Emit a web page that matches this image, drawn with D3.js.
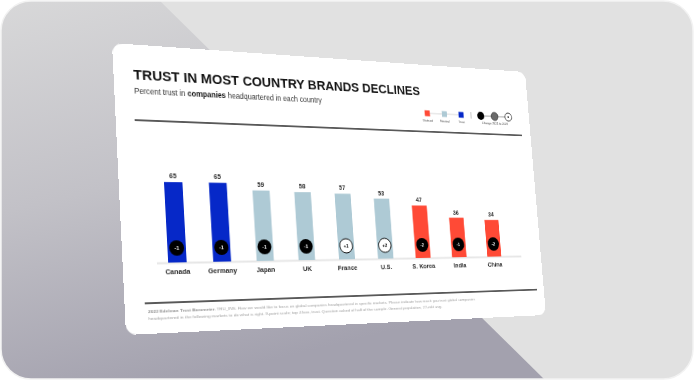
<!DOCTYPE html>
<html><head><meta charset="utf-8">
<script src="https://cdn.jsdelivr.net/npm/d3@7"></script>
<style>
html,body{margin:0;padding:0;background:#fff;width:694px;height:380px;overflow:hidden;}
#bg{position:absolute;left:0;top:0;}
#card{position:absolute;left:0;top:0;transform-origin:0 0;width:520px;height:300px;}
text{font-family:"Liberation Sans",Arial,Helvetica,sans-serif;}
</style></head><body>
<svg id="bg" width="694" height="380"></svg>
<div id="card"></div>
<script>
// ---- data ----
const countries = ["Canada","Germany","Japan","UK","France","U.S.","S. Korea","India","China"];
const trustValues = [65,65,59,58,57,53,47,36,34];
const changeValues = [-1,-1,-1,-1,1,2,-2,-1,-2];
const trustLevels = ["trust","trust","neutral","neutral","neutral","neutral","distrust","distrust","distrust"];
const legendKeys = ["distrust","neutral","trust"];
const legendLabels = ["Distrust","Neutral","Trust"];
const changeLegendLabel = "Change 2021 to 2022";
const titleText = "TRUST IN MOST COUNTRY BRANDS DECLINES";
const subtitleParts = ["Percent trust in ","companies"," headquartered in each country"];
const footnoteLines = [
  ["2022 Edelman Trust Barometer. ","TRU_INS. How we would like to focus on global companies headquartered in specific markets. Please indicate how much you trust global companies"],
  ["","headquartered in the following markets to do what is right. 9-point scale; top 4 box, trust. Question asked of half of the sample. General population, 27-mkt avg."]
];

// ---- background ----
const bg = d3.select("#bg");
const defs = bg.append("defs");
defs.append("clipPath").attr("id","frame").append("rect")
  .attr("x",1).attr("y",1).attr("width",692).attr("height",378).attr("rx",30);
const gr = defs.append("linearGradient").attr("id","shade")
  .attr("x1",0).attr("y1",0).attr("x2",0.35).attr("y2",1);
gr.append("stop").attr("offset",0).attr("stop-color","#d8d8d9");
gr.append("stop").attr("offset",0.5).attr("stop-color","#c2c1c7");
gr.append("stop").attr("offset",1).attr("stop-color","#a3a1ae");
const fb = bg.append("g").attr("clip-path","url(#frame)");
fb.append("rect").attr("width",694).attr("height",380).attr("fill","#e1e1e1");
fb.append("path").attr("d","M0,0L159,0L545,380L0,380Z").attr("fill","url(#shade)");
bg.append("rect").attr("x",1).attr("y",1).attr("width",692).attr("height",378).attr("rx",30)
  .attr("fill","none").attr("stroke","#f2f2f2").attr("stroke-width",1.5);

// ---- card (flat, then projected) ----
const W = 520, H = 300;
const quad = [[112,43],[525,72],[546,315],[126,335]];
function homography(W,H,q){
  const [x0,y0]=q[0],[x1,y1]=q[1],[x2,y2]=q[2],[x3,y3]=q[3];
  const dx1=x1-x2, dx2=x3-x2, dx3=x0-x1+x2-x3;
  const dy1=y1-y2, dy2=y3-y2, dy3=y0-y1+y2-y3;
  const det=dx1*dy2-dx2*dy1;
  const g=(dx3*dy2-dx2*dy3)/det, h=(dx1*dy3-dx3*dy1)/det;
  const a=x1-x0+g*x1, b=x3-x0+h*x3, c=x0;
  const d=y1-y0+g*y1, e=y3-y0+h*y3, f=y0;
  return [a/W,d/W,0,g/W, b/H,e/H,0,h/H, 0,0,1,0, c,f,0,1];
}
document.getElementById("card").style.transform = "matrix3d("+homography(W,H,quad).join(",")+")";

const svg = d3.select("#card").append("svg").attr("width",W).attr("height",H);
svg.append("rect").attr("width",W).attr("height",H).attr("rx",11).attr("fill","#fff");

const color = {trust:"#0628c8", neutral:"#aecad5", distrust:"#ff4a36"};

// title
svg.append("text").attr("x",21).attr("y",37).attr("font-size",15.5).attr("font-weight","bold")
  .attr("fill","#111").attr("textLength",345).attr("lengthAdjust","spacingAndGlyphs").text(titleText);
const st = svg.append("text").attr("x",21).attr("y",52).attr("font-size",8.3).attr("fill","#333");
st.selectAll("tspan").data(subtitleParts).join("tspan")
  .attr("font-weight",(d,i)=>i===1?"bold":"normal").attr("fill",(d,i)=>i===1?"#111":"#333").text(d=>d);

// rules
svg.append("line").attr("x1",20).attr("x2",507).attr("y1",80).attr("y2",80).attr("stroke","#222").attr("stroke-width",1.3);
svg.append("line").attr("x1",21).attr("x2",510).attr("y1",269).attr("y2",269).attr("stroke","#222").attr("stroke-width",1.5);

// legend
const lg = svg.append("g");
const lx = d3.scalePoint().domain(legendKeys).range([374,421]);
lg.append("line").attr("x1",374).attr("x2",421).attr("y1",58).attr("y2",58).attr("stroke","#bbb").attr("stroke-width",0.6);
lg.selectAll("rect").data(legendKeys).join("rect")
  .attr("x",d=>lx(d)-3.5).attr("y",54.5).attr("width",7).attr("height",7).attr("fill",d=>color[d]);
lg.selectAll("text.ll").data(legendLabels).join("text").attr("class","ll")
  .attr("x",(d,i)=>lx(legendKeys[i])).attr("y",68).attr("text-anchor","middle")
  .attr("font-size",4).attr("fill","#444").text(d=>d);
lg.append("line").attr("x1",435).attr("x2",435).attr("y1",54).attr("y2",62).attr("stroke","#888").attr("stroke-width",0.6);
const cKeys = ["neg","zero","pos"];
const cx = d3.scalePoint().domain(cKeys).range([449,489]);
lg.append("line").attr("x1",449).attr("x2",489).attr("y1",58).attr("y2",58).attr("stroke","#555").attr("stroke-width",0.6);
lg.selectAll("circle").data(cKeys).join("circle")
  .attr("cx",d=>cx(d)).attr("cy",58).attr("r",5)
  .attr("fill",d=>d==="neg"?"#000":d==="zero"?"#6a6a6a":"#fff")
  .attr("stroke",d=>d==="zero"?"#333":"#000").attr("stroke-width",d=>d==="neg"?0:0.8);
lg.append("circle").attr("cx",cx("pos")).attr("cy",58).attr("r",0.9).attr("fill","#000");
lg.append("text").attr("x",469).attr("y",68).attr("text-anchor","middle").attr("font-size",4)
  .attr("fill","#444").text(changeLegendLabel);

// chart
const x = d3.scalePoint().domain(countries).range([58,452]);
const y = d3.scaleLinear().domain([0,100]).range([228,99]);
const barW = 20;
const data = countries.map((c,i)=>({c, v:trustValues[i], ch:changeValues[i], lvl:trustLevels[i]}));

svg.append("line").attr("x1",36).attr("x2",491).attr("y1",y(0)+0.5).attr("y2",y(0)+0.5)
  .attr("stroke","#e6e6e6").attr("stroke-width",2);
svg.selectAll("rect.bar").data(data).join("rect").attr("class","bar")
  .attr("x",d=>x(d.c)-barW/2).attr("y",d=>y(d.v)).attr("width",barW).attr("height",d=>y(0)-y(d.v))
  .attr("fill",d=>color[d.lvl]);
svg.selectAll("text.val").data(data).join("text").attr("class","val")
  .attr("x",d=>x(d.c)).attr("y",d=>y(d.v)-4).attr("text-anchor","middle")
  .attr("font-size",7).attr("font-weight","bold").attr("fill","#222").text(d=>d.v);
const fmt = v => (v>0?"+":"")+v;
svg.selectAll("circle.ch").data(data).join("circle").attr("class","ch")
  .attr("cx",d=>x(d.c)).attr("cy",y(0)-15).attr("r",8)
  .attr("fill",d=>d.ch<0?"#000":"#fff").attr("stroke","#000").attr("stroke-width",d=>d.ch<0?0:1);
svg.selectAll("text.chl").data(data).join("text").attr("class","chl")
  .attr("x",d=>x(d.c)).attr("y",y(0)-13).attr("text-anchor","middle")
  .attr("font-size",5.5).attr("font-weight","bold").attr("fill",d=>d.ch<0?"#fff":"#000").text(d=>fmt(d.ch));
svg.selectAll("text.cat").data(data).join("text").attr("class","cat")
  .attr("x",d=>x(d.c)).attr("y",y(0)+12.5).attr("text-anchor","middle")
  .attr("font-size",7.5).attr("font-weight","bold").attr("fill","#2a2a2a").text(d=>d.c);

// footnote
const fn = svg.append("g");
footnoteLines.forEach((parts,i)=>{
  const t = fn.append("text").attr("x",24).attr("y",279+i*7).attr("font-size",4.4).attr("fill","#a0a0a0")
    .attr("textLength",i===0?396:350).attr("lengthAdjust","spacingAndGlyphs");
  t.append("tspan").attr("font-weight","bold").attr("fill","#909090").text(parts[0]);
  t.append("tspan").text(parts[1]);
});
</script>
</body></html>
